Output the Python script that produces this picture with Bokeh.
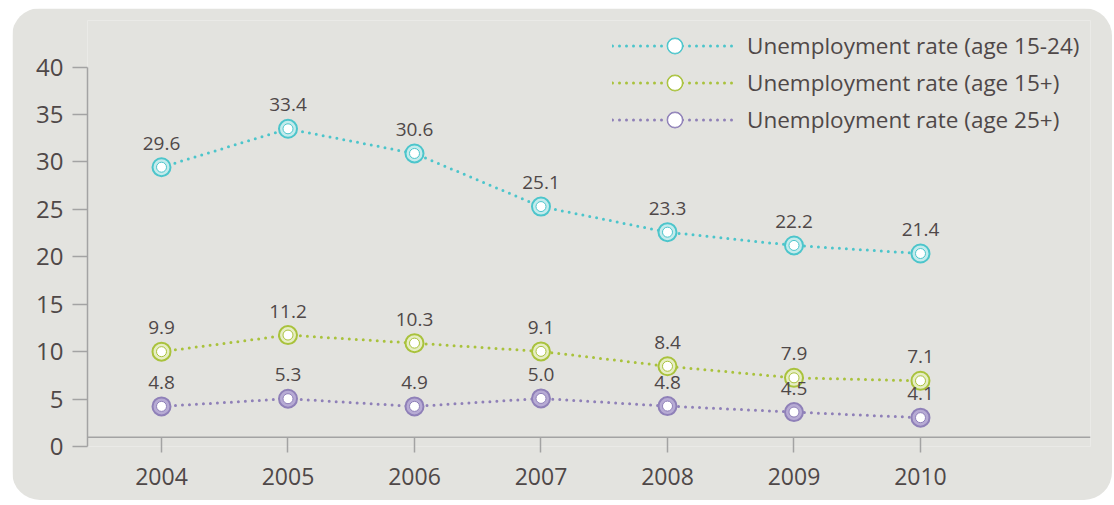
from bokeh.plotting import figure
from bokeh.models import ColumnDataSource, Legend, LegendItem, Span, FixedTicker, LabelSet
from bokeh.core.properties import value
from bokeh.embed import file_html
from bokeh.resources import INLINE

# ---- data ----
years = [2004, 2005, 2006, 2007, 2008, 2009, 2010]
youth_values = [29.6, 33.4, 30.6, 25.1, 23.3, 22.2, 21.4]      # age 15-24 (labels)
youth_drawn = [29.45, 33.5, 30.9, 25.3, 22.6, 21.2, 20.35]      # marker heights as drawn
total_values = [9.9, 11.2, 10.3, 9.1, 8.4, 7.9, 7.1]            # age 15+ (labels)
total_drawn = [10.0, 11.75, 10.9, 10.03, 8.46, 7.24, 6.93]
adult_values = [4.8, 5.3, 4.9, 5.0, 4.8, 4.5, 4.1]              # age 25+ (labels)
adult_drawn = [4.23, 5.04, 4.23, 5.07, 4.26, 3.63, 3.04]
series_names = ["Unemployment rate (age 15-24)",
                "Unemployment rate (age 15+)",
                "Unemployment rate (age 25+)"]
y_ticks = [0, 5, 10, 15, 20, 25, 30, 35, 40]

BG = "#e3e3df"
TXT = "#4f4848"
AX = "#a3a3a3"
colors = ["#4cc5cb", "#a9c23c", "#8f80b8"]
rings = ["#c4ebec", "#e6edc4", "#b7abd4"]

p = figure(width=1100, height=492, output_backend="svg", toolbar_location=None,
           x_range=(2003.415, 2011.344), y_range=(0, 44.92),
           min_border_left=75, min_border_right=22, min_border_top=12, min_border_bottom=54)
p.margin = (8, 0, 0, 12)
p.styles = {"border-radius": "28px", "overflow": "hidden"}
p.background_fill_color = BG
p.border_fill_color = BG
p.outline_line_color = None
p.grid.visible = False

# axes
p.xaxis.ticker = FixedTicker(ticks=years)
p.xaxis.axis_line_color = None
p.xaxis.major_tick_line_color = AX
p.xaxis.major_tick_line_width = 1.5
p.xaxis.major_tick_in = 9
p.xaxis.major_tick_out = 6
p.xaxis.minor_tick_line_color = None
p.xaxis.major_label_text_font = "Open Sans"
p.xaxis.major_label_text_font_size = "23px"
p.xaxis.major_label_text_color = TXT
p.xaxis.major_label_standoff = 15

p.yaxis.ticker = FixedTicker(ticks=y_ticks)
p.yaxis.bounds = (0, 40)
p.yaxis.axis_line_color = AX
p.yaxis.axis_line_width = 1.5
p.yaxis.major_tick_line_color = AX
p.yaxis.major_tick_line_width = 1.5
p.yaxis.major_tick_in = 0
p.yaxis.major_tick_out = 15
p.yaxis.minor_tick_line_color = None
p.yaxis.major_label_text_font = "Open Sans"
p.yaxis.major_label_text_font_size = "24px"
p.yaxis.major_label_text_color = TXT
p.yaxis.major_label_standoff = 9

p.add_layout(Span(location=0.98, dimension="width", line_color=AX, line_width=1.5))

items = []
for name, vals, drawn, col, ring in zip(series_names,
                                        [youth_values, total_values, adult_values],
                                        [youth_drawn, total_drawn, adult_drawn],
                                        colors, rings):
    src = ColumnDataSource(dict(x=years, y=drawn, lab=[f"{v:.1f}" for v in vals]))
    ln = p.line("x", "y", source=src, line_color=col, line_width=3,
                line_dash="0 7", line_cap="round")
    outer = p.scatter("x", "y", source=src, size=18, fill_color=ring,
                      line_color=col, line_width=2)
    inner = p.scatter("x", "y", source=src, size=10, fill_color="white",
                      line_color=col, line_width=1)
    p.add_layout(LabelSet(x="x", y="y", text="lab", source=src, y_offset=24,
                          text_align="center", text_baseline="middle",
                          text_font=value("Open Sans"), text_font_size=value("19px"),
                          text_color=TXT))
    items.append(LegendItem(label=name, renderers=[ln, outer, inner]))

legend = Legend(items=items, location=(525, 308), glyph_width=125, glyph_height=37,
                spacing=0, padding=0, margin=0, label_standoff=10,
                label_text_font="Open Sans", label_text_font_size="22.5px",
                label_text_color=TXT, background_fill_alpha=0, border_line_color=None)
p.add_layout(legend)

open("out.html", "w").write(file_html(p, INLINE))
